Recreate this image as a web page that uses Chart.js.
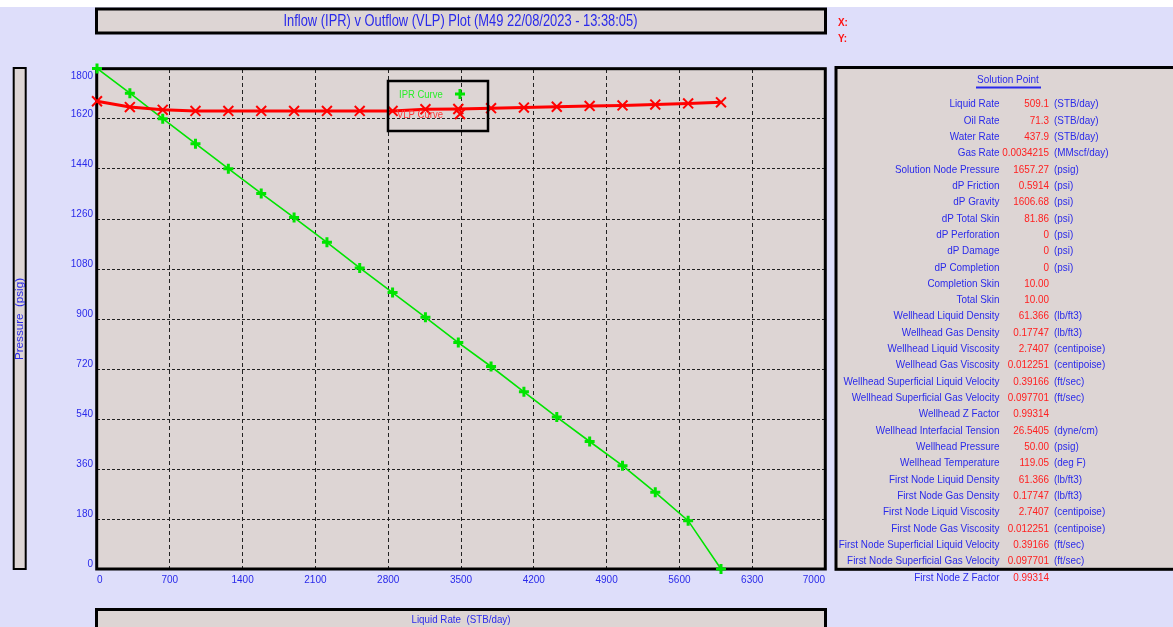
<!DOCTYPE html>
<html>
<head>
<meta charset="utf-8">
<title>Inflow (IPR) v Outflow (VLP) Plot</title>
<script src="https://cdn.jsdelivr.net/npm/chart.js@4.4.0/dist/chart.umd.min.js"></script>
<style>
  html, body { margin: 0; padding: 0; background: #dedefa; }
  #wrap { width: 1173px; height: 627px; }
</style>
</head>
<body>
<div id="wrap"><canvas id="iprChart" width="1173" height="627"></canvas></div>
<script>
// liquid rate (STB/day) for each computed point
var liquidRate = [0, 316, 632, 947, 1263, 1579, 1895, 2211, 2526, 2842, 3158, 3474, 3789, 4105, 4421, 4737, 5053, 5368, 5684, 6000];
// pressures (psig)
var iprPressure = [1802, 1713, 1621, 1531, 1441, 1352, 1265, 1176, 1084, 995, 906, 815, 729, 638, 547, 459, 372, 276, 174, 0];
var vlpPressure = [1684, 1663, 1653, 1649, 1649, 1649, 1649, 1649, 1649, 1649, 1655, 1656, 1659, 1661, 1664, 1667, 1669, 1672, 1676, 1680];

var xTicks = [0, 700, 1400, 2100, 2800, 3500, 4200, 4900, 5600, 6300, 7000];
var yTicks = [0, 180, 360, 540, 720, 900, 1080, 1260, 1440, 1620, 1800];

var seriesNames = ['IPR Curve', 'VLP Curve'];

// solution point panel
var solLabels = ['Liquid Rate', 'Oil Rate', 'Water Rate', 'Gas Rate', 'Solution Node Pressure', 'dP Friction', 'dP Gravity',
  'dP Total Skin', 'dP Perforation', 'dP Damage', 'dP Completion', 'Completion Skin', 'Total Skin',
  'Wellhead Liquid Density', 'Wellhead Gas Density', 'Wellhead Liquid Viscosity', 'Wellhead Gas Viscosity',
  'Wellhead Superficial Liquid Velocity', 'Wellhead Superficial Gas Velocity', 'Wellhead Z Factor',
  'Wellhead Interfacial Tension', 'Wellhead Pressure', 'Wellhead Temperature', 'First Node Liquid Density',
  'First Node Gas Density', 'First Node Liquid Viscosity', 'First Node Gas Viscosity',
  'First Node Superficial Liquid Velocity', 'First Node Superficial Gas Velocity', 'First Node Z Factor'];
var solValues = ['509.1', '71.3', '437.9', '0.0034215', '1657.27', '0.5914', '1606.68', '81.86', '0', '0', '0', '10.00', '10.00',
  '61.366', '0.17747', '2.7407', '0.012251', '0.39166', '0.097701', '0.99314', '26.5405', '50.00', '119.05',
  '61.366', '0.17747', '2.7407', '0.012251', '0.39166', '0.097701', '0.99314'];
var solUnits = ['(STB/day)', '(STB/day)', '(STB/day)', '(MMscf/day)', '(psig)', '(psi)', '(psi)', '(psi)', '(psi)', '(psi)', '(psi)', '', '',
  '(lb/ft3)', '(lb/ft3)', '(centipoise)', '(centipoise)', '(ft/sec)', '(ft/sec)', '', '(dyne/cm)', '(psig)', '(deg F)',
  '(lb/ft3)', '(lb/ft3)', '(centipoise)', '(centipoise)', '(ft/sec)', '(ft/sec)', ''];

var BLUE = '#2a2aea';
var RED = '#ff2020';
var GREEN = '#00e400';
var PANEL = '#ddd5d4';
var BG = '#dedefa';
var FONT = "'Liberation Sans', Arial, sans-serif";

function txt(ctx, s, x, y, align, color, size, sx, bold) {
  ctx.save();
  ctx.font = (bold ? 'bold ' : '') + size + 'px ' + FONT;
  ctx.fillStyle = color;
  ctx.textBaseline = 'middle';
  ctx.textAlign = align;
  ctx.translate(x, y);
  ctx.scale(sx, 1);
  ctx.fillText(s, 0, 0);
  ctx.restore();
}

function box(ctx, x, y, w, h, lw) {
  ctx.save();
  ctx.fillStyle = PANEL;
  ctx.fillRect(x, y, w, h);
  ctx.strokeStyle = '#000';
  ctx.lineWidth = lw;
  ctx.strokeRect(x, y, w, h);
  ctx.restore();
}

function drawMarker(ctx, style, x, y, r, color, lw) {
  ctx.save();
  ctx.strokeStyle = color;
  ctx.lineWidth = lw;
  ctx.beginPath();
  if (style === 'cross') {
    ctx.moveTo(x - r, y); ctx.lineTo(x + r, y);
    ctx.moveTo(x, y - r); ctx.lineTo(x, y + r);
  } else {
    var d = r * Math.SQRT1_2;
    ctx.moveTo(x - d, y - d); ctx.lineTo(x + d, y + d);
    ctx.moveTo(x - d, y + d); ctx.lineTo(x + d, y - d);
  }
  ctx.stroke();
  ctx.restore();
}

var decor = {
  id: 'decor',
  beforeDraw: function (chart) {
    var ctx = chart.ctx, a = chart.chartArea;
    ctx.save();
    ctx.fillStyle = '#ffffff';
    ctx.fillRect(0, 0, chart.width, chart.height);
    ctx.fillStyle = BG;
    ctx.fillRect(0, 7, chart.width, chart.height - 7);

    // title box
    box(ctx, 96.5, 9, 729, 24, 3);
    ctx.font = '16px ' + FONT;
    var title = 'Inflow (IPR) v Outflow (VLP) Plot (M49 22/08/2023 - 13:38:05)';
    var tw = ctx.measureText(title).width;
    txt(ctx, title, 460.5, 21.5, 'center', BLUE, 16, 354 / tw);

    // cursor readout
    txt(ctx, 'X:', 838, 23, 'left', '#ff1010', 11, 0.9, true);
    txt(ctx, 'Y:', 838, 39, 'left', '#ff1010', 11, 0.9, true);

    // y axis title box
    box(ctx, 13.7, 68, 12, 501, 2);
    ctx.save();
    ctx.translate(20, 319);
    ctx.rotate(-Math.PI / 2);
    ctx.font = '10px ' + FONT;
    var yw = ctx.measureText('Pressure  (psig)').width;
    txt(ctx, 'Pressure  (psig)', 0, 0, 'center', BLUE, 10, 82 / yw);
    ctx.restore();

    // x axis title box
    box(ctx, 96.5, 609.5, 729, 40, 3);
    txt(ctx, 'Liquid Rate  (STB/day)', 461, 620, 'center', BLUE, 11, 0.89);

    // solution point panel
    box(ctx, 836, 67.5, 360, 501.8, 3);
    txt(ctx, 'Solution Point', 1008, 80, 'center', BLUE, 11, 0.91);
    ctx.fillStyle = BLUE;
    ctx.fillRect(976, 86.5, 65, 2);
    for (var i = 0; i < solLabels.length; i++) {
      var y = 104.3 + i * 16.32;
      txt(ctx, solLabels[i], 999.5, y, 'right', BLUE, 11, 0.9);
      txt(ctx, solValues[i], 1049, y, 'right', RED, 11, 0.9);
      if (solUnits[i]) txt(ctx, solUnits[i], 1054, y, 'left', BLUE, 11, 0.9);
    }

    // plot background
    ctx.fillStyle = PANEL;
    ctx.fillRect(a.left, a.top, a.right - a.left, a.bottom - a.top);
    ctx.restore();
  },
  beforeDatasetsDraw: function (chart) {
    var ctx = chart.ctx, a = chart.chartArea;
    ctx.save();
    ctx.strokeStyle = '#000';
    ctx.lineWidth = 3;
    ctx.strokeRect(a.left - 0.3, a.top - 0.3, a.right - a.left + 0.6, a.bottom - a.top + 0.3);
    ctx.restore();
  },
  afterDatasetsDraw: function (chart) {
    var ctx = chart.ctx;
    ctx.save();
    ctx.strokeStyle = '#000';
    ctx.lineWidth = 2.5;
    ctx.strokeRect(388, 81, 100, 50);
    ctx.restore();
    txt(ctx, seriesNames[0], 399, 95, 'left', '#2aee2a', 10, 0.95);
    drawMarker(ctx, 'cross', 460, 94, 5, GREEN, 3);
    txt(ctx, seriesNames[1], 397, 115, 'left', '#ff3a3a', 10, 0.95);
    drawMarker(ctx, 'crossRot', 460, 114, 7, '#ff0000', 2);
  }
};

var iprPoints = liquidRate.map(function (q, i) { return { x: q, y: iprPressure[i] }; });
var vlpPoints = liquidRate.map(function (q, i) { return { x: q, y: vlpPressure[i] }; });

var ctx = document.getElementById('iprChart').getContext('2d');
var chart = new Chart(ctx, {
  type: 'line',
  data: {
    datasets: [{
      label: seriesNames[0],
      data: iprPoints,
      borderColor: GREEN,
      borderWidth: 1.6,
      pointStyle: 'cross',
      pointRadius: 5,
      pointBorderWidth: 3,
      pointBorderColor: GREEN,
      tension: 0,
      clip: false,
      order: 1
    }, {
      label: seriesNames[1],
      data: vlpPoints,
      borderColor: '#ff0000',
      borderWidth: 3,
      pointStyle: 'crossRot',
      pointRadius: 7,
      pointBorderWidth: 2,
      pointBorderColor: '#ff0000',
      tension: 0,
      clip: false,
      order: 0
    }]
  },
  options: {
    responsive: false,
    devicePixelRatio: 1,
    animation: false,
    layout: { padding: { top: 69, right: 348, bottom: 38, left: 0 } },
    scales: {
      x: {
        type: 'linear',
        min: 0,
        max: 7000,
        afterBuildTicks: function (s) { s.ticks = xTicks.map(function (v) { return { value: v }; }); },
        afterFit: function (s) { s.height = 20; },
        ticks: {
          color: BLUE,
          font: { family: FONT, size: 10 },
          padding: 5,
          align: 'inner',
          maxRotation: 0,
          autoSkip: false,
          callback: function (v) { return String(v); }
        },
        grid: { color: '#222', lineWidth: 1, drawTicks: false },
        border: { display: false, dash: [4, 3] }
      },
      y: {
        min: 0,
        max: 1800,
        afterBuildTicks: function (s) { s.ticks = yTicks.map(function (v) { return { value: v }; }); },
        afterFit: function (s) { s.width = 97; },
        ticks: {
          color: BLUE,
          font: { family: FONT, size: 10 },
          padding: 4,
          labelOffset: -4.5,
          autoSkip: false,
          callback: function (v) { return v === 1800 ? ['', '', '1800'] : String(v); }
        },
        grid: { color: '#222', lineWidth: 1, drawTicks: false },
        border: { display: false, dash: [3, 2] }
      }
    },
    plugins: {
      legend: { display: false },
      title: { display: false },
      tooltip: { enabled: false }
    }
  },
  plugins: [decor]
});
</script>
</body>
</html>
